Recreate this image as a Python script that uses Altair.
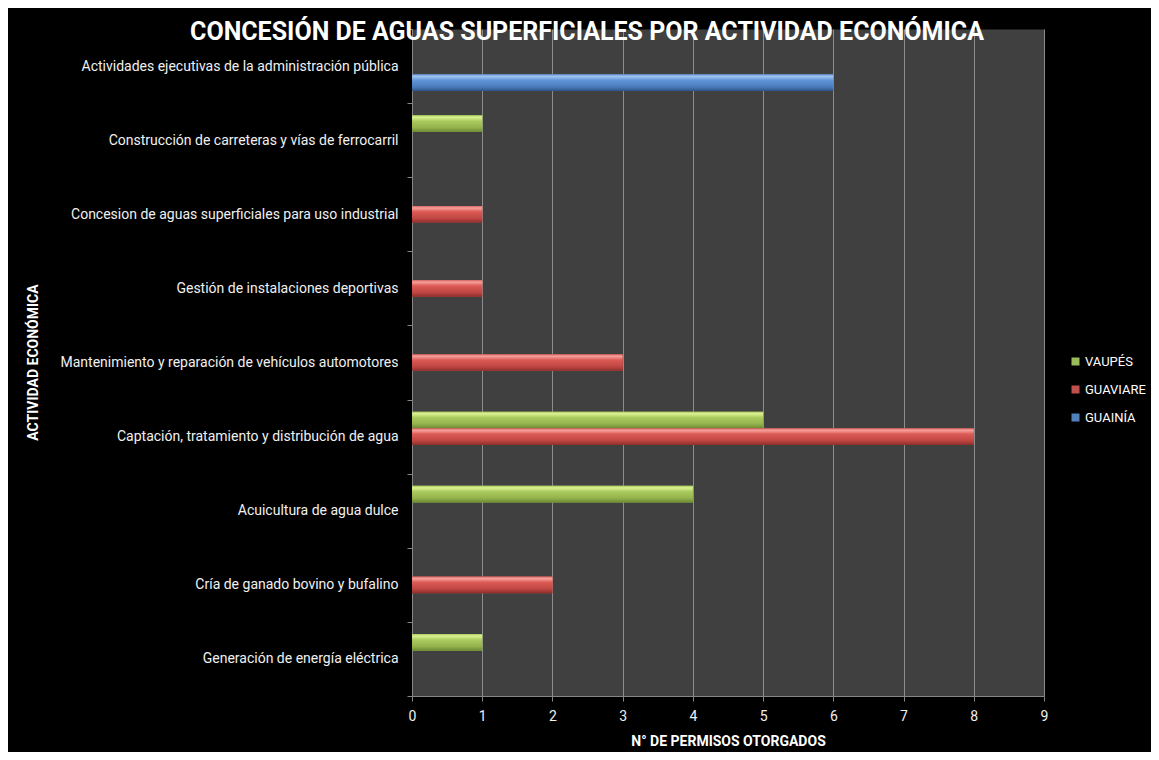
import altair as alt
import pandas as pd

categories = [
    "Actividades ejecutivas de la administración pública",
    "Construcción de carreteras y vías de ferrocarril",
    "Concesion de aguas superficiales para uso industrial",
    "Gestión de instalaciones deportivas",
    "Mantenimiento y reparación de vehículos automotores",
    "Captación, tratamiento y distribución de agua",
    "Acuicultura de agua dulce",
    "Cría de ganado bovino y bufalino",
    "Generación de energía eléctrica",
]
series = ["VAUPÉS", "GUAVIARE", "GUAINÍA"]
vaupes = [0, 1, 0, 0, 0, 5, 4, 0, 1]
guaviare = [0, 0, 1, 1, 3, 8, 0, 2, 0]
guainia = [6, 0, 0, 0, 0, 0, 0, 0, 0]
base_colors = ["#9BBB59", "#C0504D", "#4F81BD"]
x_ticks = list(range(10))

gradients = {
    "VAUPÉS": [(0, "#a9c95f"), (0.12, "#dcf291"), (0.35, "#abcb5f"), (0.75, "#93b24c"), (1, "#6b8a32")],
    "GUAVIARE": [(0, "#d46460"), (0.12, "#f6a19c"), (0.35, "#dc5a55"), (0.75, "#bf4642"), (1, "#8e2f2c")],
    "GUAINÍA": [(0, "#6993cf"), (0.12, "#a3c6f2"), (0.35, "#6096d8"), (0.75, "#4a7cbc"), (1, "#2f5589")],
}

rows = []
for s, vals in zip(series, [vaupes, guaviare, guainia]):
    for c, v in zip(categories, vals):
        if v > 0:
            rows.append({"cat": c, "serie": s, "n": v})
df = pd.DataFrame(rows)

LABEL_FONT = "Roboto"

y_enc = alt.Y(
    "cat:N",
    sort=categories,
    scale=alt.Scale(domain=categories, paddingInner=0, paddingOuter=0),
    axis=alt.Axis(
        title="ACTIVIDAD ECONÓMICA",
        titleFont=LABEL_FONT,
        titleFontSize=14,
        titleFontWeight="bold",
        titleColor="#ffffff",
        titleX=-372,
        titleY=333,
        titleAngle=270,
        titleBaseline="bottom",
        titleAlign="center",
        labelFont=LABEL_FONT,
        labelFontSize=14,
        labelColor="#f0f0f0",
        labelPadding=9,
        labelLimit=500,
        grid=False,
        ticks=True,
        tickBand="extent",
        tickSize=5,
        tickColor="#868686",
        domainColor="#868686",
    ),
)
yoff_enc = alt.YOffset(
    "serie:N",
    sort=series,
    scale=alt.Scale(domain=series, paddingInner=0, paddingOuter=0.73),
)
x_enc = alt.X(
    "n:Q",
    scale=alt.Scale(domain=[0, 9], nice=False),
    axis=alt.Axis(
        values=x_ticks,
        format="d",
        title="N°  DE PERMISOS OTORGADOS",
        titleFont=LABEL_FONT,
        titleFontSize=14,
        titleFontWeight="bold",
        titleColor="#ffffff",
        titlePadding=11,
        labelFont=LABEL_FONT,
        labelFontSize=14,
        labelColor="#f0f0f0",
        labelPadding=8,
        labelFlush=False,
        grid=True,
        gridColor="#8c8c8c",
        gridWidth=1,
        tickSize=5,
        tickColor="#868686",
        domainColor="#868686",
    ),
)

base = alt.Chart(df).encode(y=y_enc, yOffset=yoff_enc, x=x_enc)

solid = base.mark_bar().encode(
    color=alt.Color(
        "serie:N",
        sort=series,
        scale=alt.Scale(domain=series, range=base_colors),
        legend=alt.Legend(
            orient="none",
            legendX=657,
            legendY=326,
            title=None,
            symbolType="square",
            symbolSize=64,
            symbolStrokeWidth=0,
            labelFont=LABEL_FONT,
            labelFontSize=13,
            labelColor="#ffffff",
            labelOffset=3,
            labelLimit=200,
            rowPadding=14,
            padding=0,
        ),
    )
)

layers = [solid]
for s in series:
    g = alt.Gradient(
        gradient="linear",
        x1=0, y1=0, x2=0, y2=1,
        stops=[alt.GradientStop(offset=o, color=c) for o, c in gradients[s]],
    )
    layers.append(
        base.transform_filter(alt.datum.serie == s).mark_bar(color=g)
    )

chart = (
    alt.layer(*layers)
    .properties(
        width=632,
        height=667,
        background="#000000",
        autosize=alt.AutoSizeParams(type="none"),
        padding={"left": 404, "top": 21, "right": 107, "bottom": 56},
        title=alt.TitleParams(
            text="CONCESIÓN DE AGUAS SUPERFICIALES POR ACTIVIDAD ECONÓMICA",
            font="Roboto",
            fontSize=25,
            fontWeight="bold",
            color="#ffffff",
            anchor="middle",
            frame="group",
            baseline="alphabetic",
            offset=0,
            dx=-141,
            dy=43,
        ),
    )
    .configure_view(fill="#404040", stroke="transparent")
)

chart.save("out.html", embed_options={"renderer": "svg", "actions": False})
